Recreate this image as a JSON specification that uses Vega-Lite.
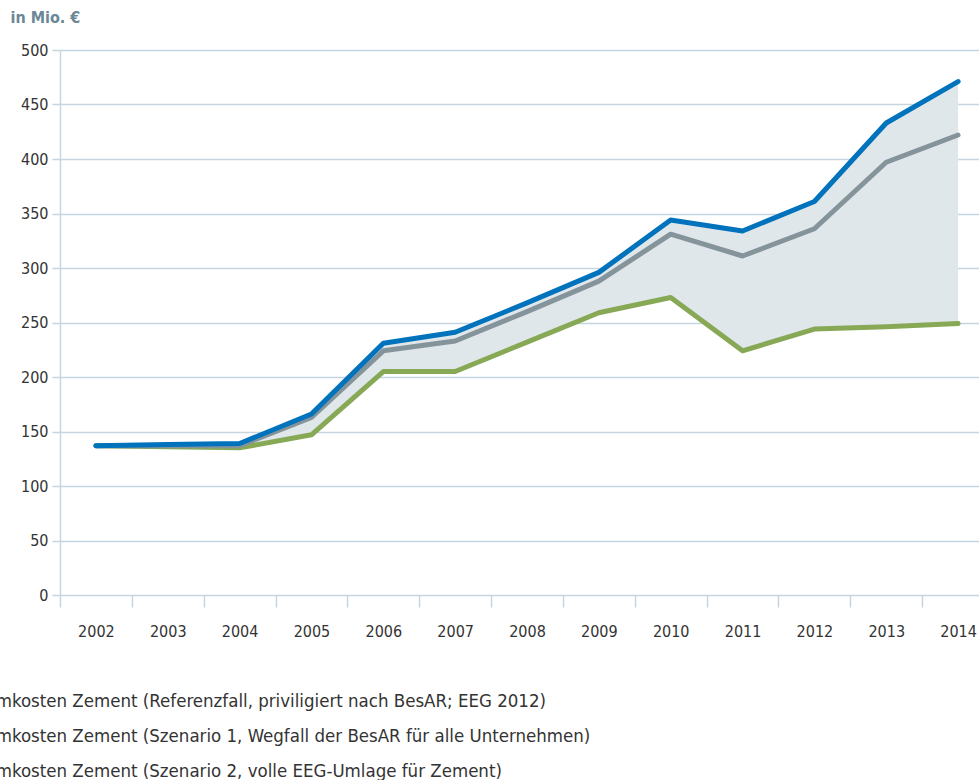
{
  "$schema": "https://vega.github.io/schema/vega-lite/v6.json",
  "autosize": "none",
  "padding": {"left": 60, "top": 50, "right": 0, "bottom": 185},
  "width": 934,
  "height": 545,
  "background": "#ffffff",
  "config": {
    "view": {"stroke": null},
    "font": "DejaVu Sans Condensed",
    "axis": {"labelFont": "DejaVu Sans Condensed", "labelColor": "#333333", "labelFontSize": 16, "titleFont": "DejaVu Sans Condensed"},
    "legend": {"labelFont": "DejaVu Sans Condensed"}
  },
  "datasets": {
    "wide": [
      {"Jahr": "2002", "Szenario 2": 137, "Szenario 1": 137, "Referenz": 137},
      {"Jahr": "2003", "Szenario 2": 138, "Szenario 1": 137, "Referenz": 136},
      {"Jahr": "2004", "Szenario 2": 139, "Szenario 1": 137, "Referenz": 135},
      {"Jahr": "2005", "Szenario 2": 166, "Szenario 1": 163, "Referenz": 147},
      {"Jahr": "2006", "Szenario 2": 231, "Szenario 1": 224, "Referenz": 205},
      {"Jahr": "2007", "Szenario 2": 241, "Szenario 1": 233, "Referenz": 205},
      {"Jahr": "2008", "Szenario 2": 268, "Szenario 1": 260, "Referenz": 232},
      {"Jahr": "2009", "Szenario 2": 296, "Szenario 1": 288, "Referenz": 259},
      {"Jahr": "2010", "Szenario 2": 344, "Szenario 1": 331, "Referenz": 273},
      {"Jahr": "2011", "Szenario 2": 334, "Szenario 1": 311, "Referenz": 224},
      {"Jahr": "2012", "Szenario 2": 361, "Szenario 1": 336, "Referenz": 244},
      {"Jahr": "2013", "Szenario 2": 433, "Szenario 1": 397, "Referenz": 246},
      {"Jahr": "2014", "Szenario 2": 471, "Szenario 1": 422, "Referenz": 249}
    ]
  },
  "data": {"name": "wide"},
  "encoding": {
    "x": {
      "field": "Jahr", "type": "ordinal",
      "scale": {"type": "band", "paddingInner": 0, "paddingOuter": 0},
      "axis": {
        "title": null, "labelAngle": 0, "tickBand": "extent", "tickSize": 12,
        "tickColor": "#c5d6e0", "tickWidth": 1.5, "domain": false, "labelPadding": 16, "grid": false
      }
    }
  },
  "layer": [
    {
      "mark": {"type": "area", "color": "#e0e7eb", "opacity": 1},
      "encoding": {
        "y": {
          "field": "Szenario 2", "type": "quantitative",
          "scale": {"domain": [0, 500]},
          "axis": {
            "title": "in Mio. €", "titleAngle": 0, "titleX": -50, "titleY": -33,
            "titleAlign": "left", "titleBaseline": "middle", "titleFontSize": 16,
            "titleFontWeight": "bold", "titleColor": "#6b8796",
            "values": [0, 50, 100, 150, 200, 250, 300, 350, 400, 450, 500],
            "grid": true, "gridColor": "#c5d6e0", "gridWidth": 1.5,
            "domainColor": "#c5d6e0", "domainWidth": 1.5,
            "tickColor": "#c5d6e0", "tickSize": 8, "tickWidth": 1.5, "labelPadding": 4
          }
        },
        "y2": {"field": "Referenz"}
      }
    },
    {
      "transform": [
        {"fold": ["Referenz", "Szenario 1", "Szenario 2"], "as": ["Serie", "Wert"]}
      ],
      "mark": {"type": "line", "strokeWidth": 5, "strokeCap": "round", "strokeJoin": "round"},
      "encoding": {
        "y": {"field": "Wert", "type": "quantitative"},
        "color": {
          "field": "Serie", "type": "nominal",
          "scale": {
            "domain": ["Referenz", "Szenario 1", "Szenario 2"],
            "range": ["#87a956", "#85949b", "#0073bc"]
          },
          "legend": {
            "orient": "none", "legendX": -134, "legendY": 637, "title": null,
            "symbolType": "stroke", "symbolSize": 500, "symbolStrokeWidth": 5,
            "labelFontSize": 18.5, "labelColor": "#333333", "labelOffset": 8, "rowPadding": 11,
            "labelLimit": 900,
            "labelExpr": "datum.label == 'Referenz' ? 'Stromkosten Zement (Referenzfall, priviligiert nach BesAR; EEG 2012)' : datum.label == 'Szenario 1' ? 'Stromkosten Zement (Szenario 1, Wegfall der BesAR für alle Unternehmen)' : 'Stromkosten Zement (Szenario 2, volle EEG-Umlage für Zement)'"
          }
        }
      }
    }
  ]
}
